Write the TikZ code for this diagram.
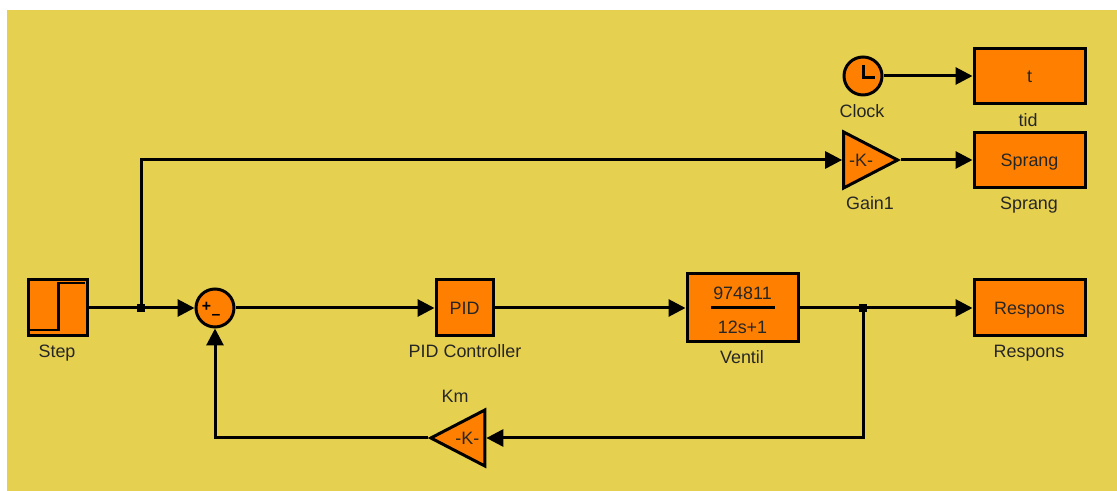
\documentclass[tikz,border=0pt]{standalone}
\usepackage{fontspec}
\setmainfont{Liberation Sans}
\usepackage{tikz}
\usetikzlibrary{arrows.meta,positioning,shapes.geometric}
\definecolor{smyellow}{RGB}{230,208,80}
\definecolor{smorange}{RGB}{255,128,0}
\tikzset{
  smnode/.style={draw=black, fill=smorange, line width=0.06cm, inner sep=0pt,
    align=center, text=black!85, text height=7.4pt, text depth=0pt,
    font=\fontsize{10.2}{12}\selectfont},
  smcircle/.style={smnode, circle, minimum size=0.76cm},
  smgain/.style={smnode, isosceles triangle, isosceles triangle apex angle=53,
    isosceles triangle stretches, minimum width=1.12cm, minimum height=1.08cm},
  smlabel/.style={inner sep=0pt, text=black!85, text height=7.4pt, text depth=0pt,
    font=\fontsize{10.2}{12}\selectfont},
  smjoin/.style={fill=black, inner sep=0pt, minimum size=0.15cm},
  smwire/.style={line width=0.06cm, draw=black},
  smarrow/.style={smwire, -{Triangle[length=0.34cm,width=0.34cm]}}
}
\begin{document}
\begin{tikzpicture}
  \useasboundingbox (0,0) rectangle (22.34,9.82);
  \fill[smyellow] (0.14,0) rectangle (22.34,9.62);
  \node[smnode, minimum width=1.18cm, minimum height=1.12cm] (mStep) at (1.15cm,3.66cm) {};
  \node[smcircle] (mSum) at (4.30cm,3.66cm) {};
  \node[smnode, minimum width=1.14cm, minimum height=1.12cm] (mPID) at (9.29cm,3.66cm) {PID};
  \node[smnode, minimum width=2.22cm, minimum height=1.36cm] (mVentil) at (14.85cm,3.66cm) {};
  \node[smnode, minimum width=2.22cm, minimum height=1.12cm] (mRespons) at (20.59cm,3.66cm) {Respons};
  \node[smnode, minimum width=2.22cm, minimum height=1.10cm] (mTid) at (20.59cm,8.30cm) {t};
  \node[smnode, minimum width=2.22cm, minimum height=1.10cm] (mSprang) at (20.59cm,6.62cm) {Sprang};
  \node[smcircle] (mClock) at (17.26cm,8.30cm) {};
  \node[smgain, anchor=apex] (mGain) at (18.02cm,6.62cm) {-K-};
  \node[smgain, shape border rotate=180, anchor=apex] (mKm) at (8.55cm,1.06cm) {-K-};
  \node[smjoin] (jStep) at (2.82cm,3.66cm) {};
  \node[smjoin] (jVentil) at (17.26cm,3.66cm) {};
  \node[smlabel] (lStep) at (1.14cm,2.80cm) {Step};
  \node[smlabel] (lPID) at (9.30cm,2.80cm) {PID Controller};
  \node[smlabel] (lVentil) at (14.84cm,2.67cm) {Ventil};
  \node[smlabel] (lRespons) at (20.58cm,2.80cm) {Respons};
  \node[smlabel] (lClock) at (17.24cm,7.60cm) {Clock};
  \node[smlabel] (lTid) at (20.56cm,7.41cm) {tid};
  \node[smlabel] (lGain) at (17.40cm,5.75cm) {Gain1};
  \node[smlabel] (lSprang) at (20.58cm,5.75cm) {Sprang};
  \node[smlabel] (lKm) at (9.10cm,1.90cm) {Km};
  \node[smlabel] (nNum) at (14.85cm,3.95cm) {974811};
  \node[smlabel] (nDen) at (14.85cm,3.28cm) {12s+1};
  \node[inner sep=0pt, font=\bfseries\small] (nPlus) at (4.13cm,3.68cm) {+};
  \node[inner sep=0pt, font=\bfseries\small] (nMinus) at (4.32cm,3.49cm) {--};
  \draw[line width=0.06cm] (14.22,3.66) -- (15.50,3.66);
  \draw[line width=0.05cm] (0.60,3.22) -- (1.17,3.22) -- (1.17,4.16) -- (1.70,4.16);
  \draw[line width=0.06cm] (17.26,8.52) -- (17.26,8.27) -- (17.50,8.27);
  \draw[smwire] (mStep) -- (jStep);
  \draw[smarrow] (jStep) -- (mSum);
  \draw[smarrow] (jStep) |- (mGain.lower side);
  \draw[smarrow] (mSum) -- (mPID);
  \draw[smarrow] (mPID) -- (mVentil);
  \draw[smwire] (mVentil) -- (jVentil);
  \draw[smarrow] (jVentil) -- (mRespons);
  \draw[smarrow] (jVentil) |- (mKm.lower side);
  \draw[smarrow] (mKm.apex) -| (mSum);
  \draw[smarrow] (mClock) -- (mTid);
  \draw[smarrow] (mGain.apex) -- (mSprang);
\end{tikzpicture}
\end{document}
